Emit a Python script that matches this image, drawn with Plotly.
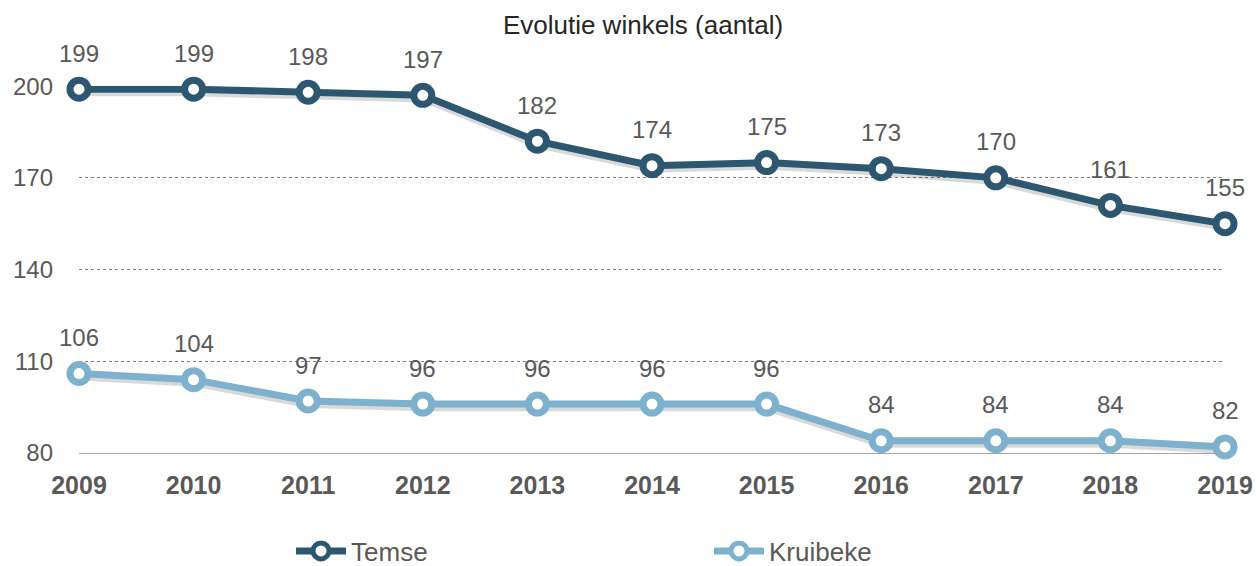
import plotly.graph_objects as go

years = [2009, 2010, 2011, 2012, 2013, 2014, 2015, 2016, 2017, 2018, 2019]
temse = [199, 199, 198, 197, 182, 174, 175, 173, 170, 161, 155]
kruibeke = [106, 104, 97, 96, 96, 96, 96, 84, 84, 84, 82]
title = "Evolutie winkels (aantal)"
ytick_vals = [80, 110, 140, 170, 200]

c_temse = "#2D5770"
c_kruibeke = "#7DB1CD"
font_family = "Liberation Sans, Arial, sans-serif"

fig = go.Figure()

# soft shadows
for vals in (temse, kruibeke):
    fig.add_trace(go.Scatter(
        x=years, y=[v - 1.0 for v in vals], mode="lines",
        line=dict(color="rgba(0,0,0,0.15)", width=8),
        showlegend=False, hoverinfo="skip"))

for name, vals, col in (("Temse", temse, c_temse), ("Kruibeke", kruibeke, c_kruibeke)):
    fig.add_trace(go.Scatter(
        x=years, y=vals, name=name, mode="lines+markers",
        line=dict(color=col, width=7),
        marker=dict(symbol="circle", size=18, color="white",
                    line=dict(color=col, width=7)),
        cliponaxis=False))
    for x, v in zip(years, vals):
        fig.add_annotation(x=x, y=v, text=str(v), showarrow=False,
                           yshift=36, font=dict(size=24, color="#595959", family=font_family))

fig.update_layout(
    width=1256, height=566,
    paper_bgcolor="white", plot_bgcolor="white",
    margin=dict(l=79, r=31, t=86, b=113, autoexpand=False),
    title=dict(text=title, x=0.512, xanchor="center", y=0.956, yanchor="middle",
               font=dict(size=26, color="#262626", family=font_family)),
    font=dict(family=font_family),
    legend=dict(orientation="h", x=0.185, xanchor="left", y=-0.267, yanchor="middle",
                itemwidth=50, entrywidth=353, entrywidthmode="pixels",
                font=dict(size=26, color="#595959", family=font_family),
                bgcolor="rgba(0,0,0,0)"),
    showlegend=True,
)
fig.update_xaxes(range=[2009, 2019], tickvals=years, ticktext=[str(y) for y in years],
                 showgrid=False, zeroline=False, showline=True, linecolor="#A6A6A6", linewidth=1,
                 ticks="", ticklabelstandoff=10, automargin=False,
                 tickfont=dict(size=25, color="#595959", family=font_family, weight="bold"))
fig.update_yaxes(range=[80, 200.05], tickvals=ytick_vals, showgrid=True, gridcolor="#7F7F7F",
                 griddash="dot", gridwidth=1, zeroline=False, showline=False, ticks="",
                 ticklabelstandoff=25, automargin=False,
                 tickfont=dict(size=24, color="#595959", family=font_family))

fig.write_html("out.html", config={"displayModeBar": False},
               post_script="document.body.style.margin='0';document.body.style.padding='0';")
